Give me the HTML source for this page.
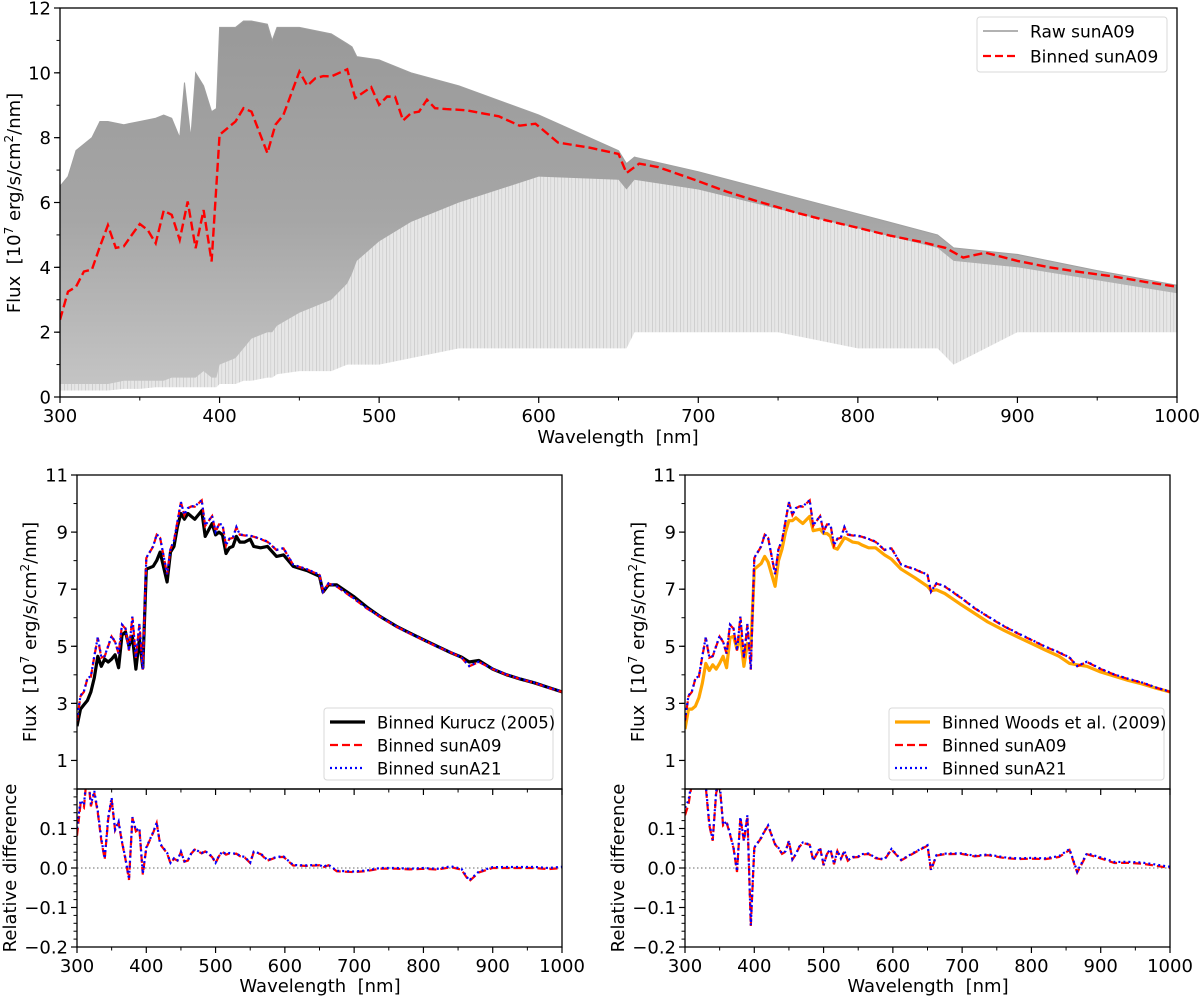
<!DOCTYPE html>
<html><head><meta charset="utf-8">
<style>
html,body{margin:0;padding:0;background:#fff;}
svg{display:block;font-family:"DejaVu Sans","Liberation Sans",sans-serif;}
</style></head>
<body>
<svg id="fig" width="1200" height="999" viewBox="0 0 1200 999" xmlns="http://www.w3.org/2000/svg">
<defs>
<clipPath id="cTop"><rect x="60" y="8" width="1117" height="389"/></clipPath>
<clipPath id="cL1"><rect x="77" y="475" width="485" height="314"/></clipPath>
<clipPath id="cL2"><rect x="77" y="789" width="485" height="158"/></clipPath>
<clipPath id="cR1"><rect x="685" y="475" width="485" height="314"/></clipPath>
<clipPath id="cR2"><rect x="685" y="789" width="485" height="158"/></clipPath>
<linearGradient id="gDense" x1="0" y1="0" x2="0" y2="1">
<stop offset="0" stop-color="#999"/><stop offset="0.55" stop-color="#a6a6a6"/><stop offset="1" stop-color="#c4c4c4"/>
</linearGradient>
<pattern id="stripes" width="7" height="10" patternUnits="userSpaceOnUse">
<rect width="7" height="10" fill="#e6e6e6"/><rect x="1" width="1" height="10" fill="#cfcfcf"/><rect x="4" width="1.2" height="10" fill="#d8d8d8"/>
</pattern>
</defs>
</svg>
<script>
// ---- data ----
const wavelengths = [300,305,310,315,320,325,330,335,340,345,350,355,360,365,370,375,380,385,390,395,400,410,415,420,430,435,440,445,450,455,460,465,470,480,485,495,500,505,510,515,520,525,530,535,542,550,555,565,575,588,598,612,632,650,655,663,675,699,718,737,761,780,800,820,840,855,866,880,900,920,940,960,980,1000];
const sunA09 = [2.38,3.25,3.40,3.87,3.93,4.64,5.30,4.60,4.65,5.00,5.34,5.15,4.74,5.75,5.62,4.85,6.03,4.59,5.77,4.18,8.09,8.50,8.91,8.80,7.52,8.40,8.70,9.37,10.04,9.60,9.83,9.90,9.89,10.11,9.22,9.56,9.01,9.27,9.26,8.53,8.76,8.80,9.17,8.91,8.88,8.86,8.84,8.75,8.66,8.37,8.43,7.85,7.69,7.50,6.91,7.20,7.09,6.68,6.33,6.04,5.69,5.45,5.22,4.98,4.78,4.60,4.30,4.45,4.20,4.00,3.85,3.72,3.55,3.40];
const sunA21 = [2.42,3.28,3.42,3.88,3.95,4.66,5.32,4.62,4.66,5.02,5.36,5.16,4.75,5.76,5.63,4.86,6.04,4.60,5.78,4.19,8.10,8.51,8.92,8.81,7.53,8.41,8.71,9.38,10.05,9.61,9.84,9.91,9.90,10.12,9.23,9.57,9.02,9.28,9.27,8.54,8.77,8.81,9.18,8.92,8.89,8.87,8.85,8.76,8.67,8.38,8.44,7.86,7.70,7.51,6.92,7.21,7.10,6.69,6.34,6.05,5.70,5.46,5.23,4.99,4.79,4.61,4.31,4.46,4.21,4.01,3.86,3.73,3.56,3.41];
const kurucz = [2.2,2.8,2.95,3.1,3.4,3.9,4.65,4.3,4.55,4.45,4.55,4.7,4.25,5.4,5.5,5.0,5.35,4.2,5.25,4.25,7.7,7.8,8.0,8.3,7.25,8.3,8.5,9.2,9.65,9.45,9.65,9.55,9.45,9.75,8.85,9.3,8.9,9.0,8.9,8.25,8.45,8.5,8.85,8.65,8.65,8.75,8.5,8.45,8.5,8.15,8.2,7.8,7.65,7.45,6.9,7.15,7.15,6.75,6.38,6.05,5.7,5.47,5.23,5.0,4.77,4.62,4.45,4.5,4.2,4.0,3.85,3.72,3.56,3.40];
const woods = [2.1,2.8,2.8,2.9,3.2,3.7,4.4,4.15,4.35,4.2,4.4,4.65,4.25,5.3,5.35,4.9,5.35,4.3,5.1,4.9,7.7,7.9,8.15,7.95,7.1,8.0,8.4,9.0,9.4,9.4,9.5,9.4,9.3,9.55,9.05,9.1,8.95,8.95,8.85,8.45,8.4,8.6,8.8,8.75,8.65,8.62,8.55,8.45,8.45,8.2,8.05,7.7,7.4,7.1,6.95,6.98,6.85,6.45,6.15,5.85,5.55,5.33,5.1,4.87,4.65,4.4,4.35,4.3,4.1,3.95,3.8,3.68,3.53,3.40];
// raw spectrum envelope (upper continuum, dense band floor, deepest line floor)
const rawWave  = [300,305,310,315,320,325,330,340,350,360,365,370,375,378,382,385,390,395,398,400,410,415,420,430,433,436,450,470,480,483,486,500,520,550,600,650,655,660,700,750,800,850,860,900,950,1000];
const rawUpper = [6.5,6.8,7.6,7.8,8.0,8.5,8.5,8.4,8.5,8.6,8.7,8.6,8.0,9.7,8.0,10.0,9.6,8.8,8.9,11.4,11.4,11.6,11.6,11.5,11.0,11.4,11.4,11.2,10.9,10.8,10.5,10.4,10.0,9.6,8.7,7.6,7.2,7.4,6.95,6.3,5.65,5.0,4.6,4.4,3.9,3.45];
const rawDense = [0.4,0.4,0.4,0.4,0.4,0.4,0.4,0.5,0.5,0.5,0.5,0.6,0.6,0.6,0.6,0.6,0.8,0.6,0.6,1.0,1.2,1.5,1.8,2.0,2.0,2.2,2.6,3.0,3.5,3.8,4.2,4.8,5.4,6.0,6.8,6.7,6.4,6.7,6.4,5.8,5.2,4.6,4.2,4.0,3.6,3.2];
const rawFloor = [0.2,0.2,0.2,0.2,0.2,0.2,0.2,0.25,0.25,0.3,0.3,0.3,0.3,0.3,0.3,0.3,0.3,0.3,0.3,0.4,0.4,0.5,0.5,0.6,0.6,0.7,0.8,0.8,1.0,1.0,1.0,1.0,1.2,1.5,1.5,1.5,1.5,2.0,2.0,2.0,1.5,1.5,1.0,2.0,2.0,2.0];
const topXTicks = [300,400,500,600,700,800,900,1000];
const topYTicks = [0,2,4,6,8,10,12];
const fluxYTicks = [1,3,5,7,9,11];
const relYTicks = [-0.2,-0.1,0.0,0.1];
const relYLabels = ["\u22120.2","\u22120.1","0.0","0.1"];

const NS = "http://www.w3.org/2000/svg";
const svg = document.getElementById('fig');
function mk(tag, attrs, parent){
  const e = document.createElementNS(NS, tag);
  for (const k in attrs) e.setAttribute(k, attrs[k]);
  (parent||svg).appendChild(e);
  return e;
}
function scale(d0,d1,r0,r1){ return v => r0 + (v-d0)/(d1-d0)*(r1-r0); }

const P = {
  top:{x0:60,x1:1177,y0:397,y1:8,ymin:0,ymax:12},
  l1:{x0:77,x1:562,y0:789,y1:475,ymin:0,ymax:11},
  l2:{x0:77,x1:562,y0:947,y1:789,ymin:-0.2,ymax:0.2},
  r1:{x0:685,x1:1170,y0:789,y1:475,ymin:0,ymax:11},
  r2:{x0:685,x1:1170,y0:947,y1:789,ymin:-0.2,ymax:0.2}
};
for (const k in P){ const p=P[k]; p.sx=scale(300,1000,p.x0,p.x1); p.sy=scale(p.ymin,p.ymax,p.y0,p.y1); }

function path(p, xs, ys){
  return xs.map((x,i)=>(i?'L':'M')+p.sx(x).toFixed(1)+','+p.sy(ys[i]).toFixed(1)).join('');
}

// ---- top panel raw spectrum ----
const gTop = mk('g',{'clip-path':'url(#cTop)'});


function band(lower, upper, fill, name){
  const p=P.top;
  let d = path(p, rawWave, upper);
  for (let i=rawWave.length-1;i>=0;i--) d += 'L'+p.sx(rawWave[i]).toFixed(1)+','+p.sy(lower[i]).toFixed(1);
  const e = mk('path',{d:d+'Z',fill:fill,stroke:'none'},gTop);
  
  
}
band(rawFloor, rawUpper, 'url(#stripes)', 'raw-spectrum-faint-lines');
band(rawDense, rawUpper, 'url(#gDense)', 'raw-spectrum-dense-band');
const rawTopLine = mk('path',{d:path(P.top,rawWave,rawUpper),fill:'none',stroke:'#a0a0a0','stroke-width':1},gTop);


const topBinned = mk('path',{d:path(P.top,wavelengths,sunA09),fill:'none',stroke:'#ff0000','stroke-width':2.4,'stroke-dasharray':'9,4'},gTop);



// ---- axes helper ----
function axes(p, yTicks, yLabels, yMinorStep, name, showXLabels){
  const g = mk('g',{});
  
  
  for (let v=350; v<1000; v+=100){
    const x=p.sx(v); mk('line',{x1:x,x2:x,y1:p.y0,y2:p.y0+3.5,stroke:'#000','stroke-width':1},g);
  }
  topXTicks.forEach(v=>{
    const x=p.sx(v); mk('line',{x1:x,x2:x,y1:p.y0,y2:p.y0+6,stroke:'#000','stroke-width':1.2},g);
    if (showXLabels){
      const t=mk('text',{x:x,y:p.y0+25,'text-anchor':'middle','font-size':18,fill:'#000'},g);
      t.textContent=v;
      
      
    }
  });
  const n = Math.round((p.ymax-p.ymin)/yMinorStep);
  for (let i=0;i<=n;i++){
    const v=p.ymin+i*yMinorStep; const y=p.sy(v);
    mk('line',{x1:p.x0-3.5,x2:p.x0,y1:y,y2:y,stroke:'#000','stroke-width':1},g);
  }
  yTicks.forEach((v,i)=>{
    const y=p.sy(v);
    mk('line',{x1:p.x0-6,x2:p.x0,y1:y,y2:y,stroke:'#000','stroke-width':1.2},g);
    const t=mk('text',{x:p.x0-9,y:y+6.5,'text-anchor':'end','font-size':18,fill:'#000'},g);
    t.textContent=yLabels[i];
    
    
  });
  mk('rect',{x:p.x0,y:p.y1,width:p.x1-p.x0,height:p.y0-p.y1,fill:'none',stroke:'#000','stroke-width':1.3},g);
}
axes(P.top, topYTicks, topYTicks.map(String), 1, 'top', true);

// ---- bottom panels ----
function bottomPair(p1,p2,refVals,refColor,clip1,clip2,side){
  const g1 = mk('g',{'clip-path':'url(#'+clip1+')'});
  
  
  const r=mk('path',{d:path(p1,wavelengths,refVals),fill:'none',stroke:refColor,'stroke-width':3.2,'stroke-linejoin':'round'},g1);
  
  
  const a=mk('path',{d:path(p1,wavelengths,sunA09),fill:'none',stroke:'#ff0000','stroke-width':2.2,'stroke-dasharray':'8,4'},g1);
  
  
  const b=mk('path',{d:path(p1,wavelengths,sunA21),fill:'none',stroke:'#0000ff','stroke-width':2.2,'stroke-dasharray':'2,3'},g1);
  
  

  const g2 = mk('g',{'clip-path':'url(#'+clip2+')'});
  
  
  const zl=mk('line',{x1:p2.x0,x2:p2.x1,y1:p2.sy(0),y2:p2.sy(0),stroke:'#888','stroke-width':1.2,'stroke-dasharray':'1.5,2.5'},g2);
  
  
  const d09 = sunA09.map((v,i)=>v/refVals[i]-1);
  const d21 = sunA21.map((v,i)=>v/refVals[i]-1);
  const c=mk('path',{d:path(p2,wavelengths,d09),fill:'none',stroke:'#ff0000','stroke-width':2.2,'stroke-dasharray':'8,4'},g2);
  
  
  const e=mk('path',{d:path(p2,wavelengths,d21),fill:'none',stroke:'#0000ff','stroke-width':2.2,'stroke-dasharray':'2,3'},g2);
  
  

  axes(p1, fluxYTicks, fluxYTicks.map(String), 1, side+'-flux', false);
  axes(p2, relYTicks, relYLabels, 0.02, side+'-reldiff', true);
}
bottomPair(P.l1,P.l2,kurucz,'#000000','cL1','cL2','left');
bottomPair(P.r1,P.r2,woods,'#ffa500','cR1','cR2','right');

// ---- axis titles ----
function fluxLabel(cx,cy,name){
  const t=mk('text',{transform:'translate('+cx+','+cy+') rotate(-90)','text-anchor':'middle','font-size':18,fill:'#000'});
  t.innerHTML='Flux  [10<tspan dy="-7" font-size="12">7</tspan><tspan dy="7"> erg/s/cm</tspan><tspan dy="-7" font-size="12">2</tspan><tspan dy="7">/nm]</tspan>';
  
  
  t.style.whiteSpace='pre';
}
fluxLabel(20,203,'top-y-axis-title');
fluxLabel(36,632,'left-flux-y-axis-title');
fluxLabel(644,632,'right-flux-y-axis-title');
function txt(x,y,s,name,rot){
  const t=mk('text',{x:x,y:y,'text-anchor':'middle','font-size':18,fill:'#000'});
  if(rot){t.removeAttribute('x');t.removeAttribute('y');t.setAttribute('transform','translate('+x+','+y+') rotate(-90)');}
  t.textContent=s; t.style.whiteSpace='pre';
  
  
}
txt(618,443,'Wavelength  [nm]','top-x-axis-title');
txt(320,992,'Wavelength  [nm]','left-x-axis-title');
txt(928,992,'Wavelength  [nm]','right-x-axis-title');
txt(16,868,'Relative difference','left-reldiff-y-axis-title',true);
txt(624,868,'Relative difference','right-reldiff-y-axis-title',true);

// ---- legends ----
function legend(x,y,w,h,entries,name,fs){
  const g=mk('g',{});
  
  
  mk('rect',{x:x,y:y,width:w,height:h,rx:3,fill:'#fff','fill-opacity':0.85,stroke:'#d8d8d8','stroke-width':1},g);
  entries.forEach((en,i)=>{
    const yy=y+14+i*(en.gap);
    const ln=mk('line',Object.assign({x1:x+6,x2:x+41,y1:yy,y2:yy,stroke:en.c,'stroke-width':en.w},en.dash?{'stroke-dasharray':en.dash}:{}),g);
    
    
    const t=mk('text',{x:x+53,y:yy+6.5,'font-size':fs,fill:'#000'},g);
    t.textContent=en.t;
    
    
  });
}
legend(977,17,190,55,[{t:'Raw sunA09',c:'#999',w:1.5,gap:25},{t:'Binned sunA09',c:'#ff0000',w:2.2,dash:'8,4',gap:25}],'top-legend',17);
legend(324,708,229,72,[{t:'Binned Kurucz (2005)',c:'#000',w:3.2,gap:23},{t:'Binned sunA09',c:'#ff0000',w:2.2,dash:'8,4',gap:23},{t:'Binned sunA21',c:'#0000ff',w:2.2,dash:'2,3',gap:23}],'left-legend',16.5);
legend(889,708,275,72,[{t:'Binned Woods et al. (2009)',c:'#ffa500',w:3.2,gap:23},{t:'Binned sunA09',c:'#ff0000',w:2.2,dash:'8,4',gap:23},{t:'Binned sunA21',c:'#0000ff',w:2.2,dash:'2,3',gap:23}],'right-legend',16.5);
</script>
</body></html>
